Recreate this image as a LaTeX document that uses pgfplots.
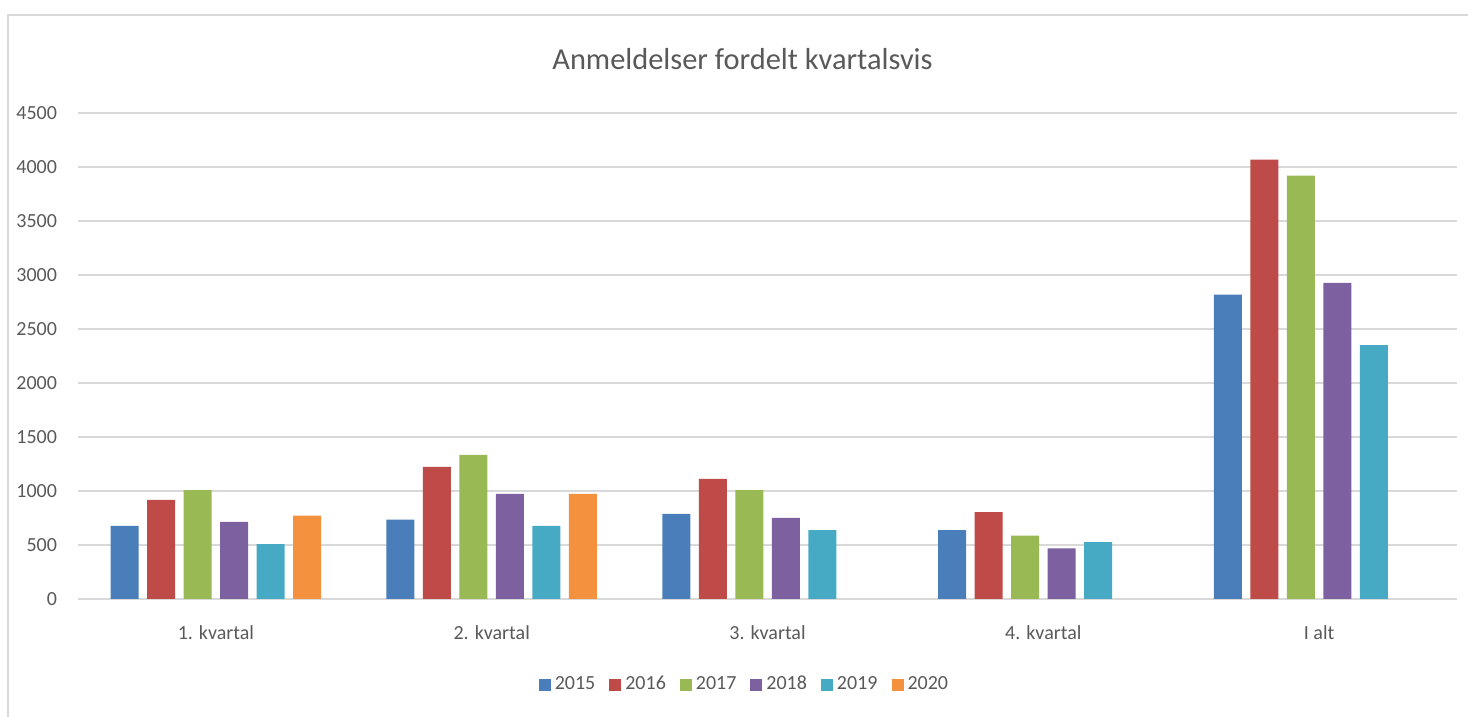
\documentclass[border=0pt]{standalone}
\usepackage{pgfplots}
\pgfplotsset{compat=1.18}
\usepackage{fontspec}
\setmainfont{Carlito}
\definecolor{c15}{HTML}{4A7EBB}
\definecolor{c16}{HTML}{BE4B48}
\definecolor{c17}{HTML}{98B954}
\definecolor{c18}{HTML}{7D60A0}
\definecolor{c19}{HTML}{46AAC5}
\definecolor{c20}{HTML}{F3913F}
\definecolor{gridc}{HTML}{D9D9D9}
\definecolor{txt}{HTML}{595959}
\begin{document}
\begin{tikzpicture}[x=1pt,y=1pt]
\path[use as bounding box] (0,0) rectangle (734,358.5);
\draw[gridc,line width=0.6pt] (4,0) -- (4,351) -- (734,351);
\begin{axis}[
  at={(39pt,59pt)}, anchor=south west,
  scale only axis, width=689.5pt, height=243pt,
  xmin=-0.5, xmax=4.5, ymin=0, ymax=4500,
  ytick={0,500,...,4500},
  xtick={0,1,2,3,4},
  xticklabels={1. kvartal,2. kvartal,3. kvartal,4. kvartal,I alt},
  axis line style={draw=none},
  major tick length=0pt,
  ymajorgrids, grid style={gridc,line width=0.8pt},
  ybar=4.25pt, bar width=14pt,
  tick label style={font=\fontsize{10}{12}\selectfont, text=txt},
  /pgf/number format/assume math mode=true,
  /pgf/number format/1000 sep={},
  yticklabel style={anchor=east, xshift=-7pt},
  xticklabel style={anchor=north, yshift=-10pt},
  title={Anmeldelser fordelt kvartalsvis},
  title style={font=\fontsize{15.2}{18}\selectfont, text=txt, at={(0.5,1)}, anchor=south, yshift=12pt, xshift=-12.5pt},
  legend style={at={(0.4840,-0.176)}, anchor=center, draw=none, legend columns=6,
    font=\fontsize{10}{12}\selectfont, text=txt,
    /tikz/every even column/.append style={column sep=5pt}},
  legend image code/.code={\fill[#1] (0pt,-3pt) rectangle (6pt,3pt);},
]
\addplot[fill=c15,draw=none] coordinates {(0,678) (1,734) (2,789) (3,638) (4,2819)};
\addplot[fill=c16,draw=none] coordinates {(0,918) (1,1224) (2,1113) (3,805) (4,4068)};
\addplot[fill=c17,draw=none] coordinates {(0,1008) (1,1335) (2,1008) (3,586) (4,3919)};
\addplot[fill=c18,draw=none] coordinates {(0,715) (1,974) (2,752) (3,469) (4,2926)};
\addplot[fill=c19,draw=none] coordinates {(0,509) (1,678) (2,638) (3,527) (4,2350)};
\addplot[fill=c20,draw=none] coordinates {(0,771) (1,974)};
\legend{2015,2016,2017,2018,2019,2020}
\end{axis}
\end{tikzpicture}
\end{document}
